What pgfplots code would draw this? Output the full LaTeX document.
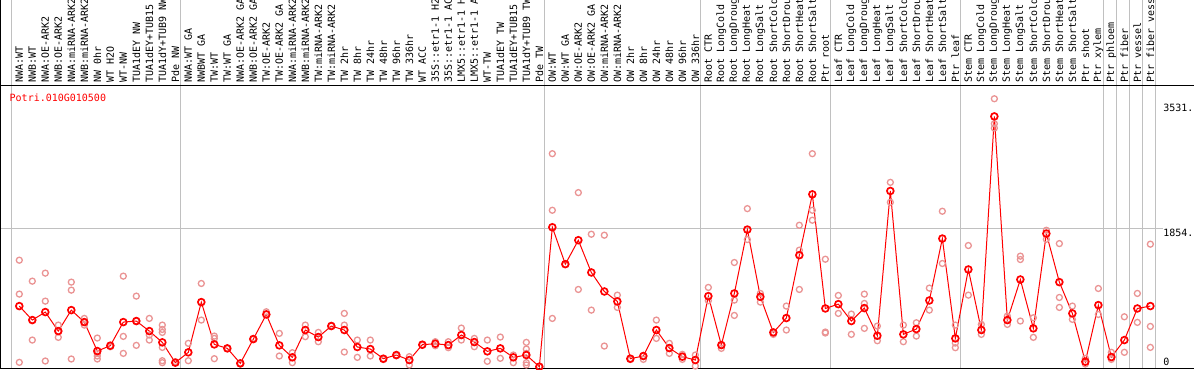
\documentclass[border=0pt]{standalone}
\usepackage{pgfplots}
\pgfplotsset{compat=1.18}
\usepackage{fontspec}
\newfontfamily\monofont{DejaVu Sans Mono}
\definecolor{gridgray}{RGB}{192,192,192}
\definecolor{reppink}{RGB}{234,148,148}
\definecolor{mainred}{RGB}{255,0,0}
\begin{document}
\begin{tikzpicture}
\begin{axis}[
  at={(0bp,1.5bp)}, anchor=south west,
  scale only axis, width=1194bp, height=283bp,
  xmin=-1.485, xmax=90.36,
  ymin=-20, ymax=3761,
  axis line style={draw=none},
  clip=false,
  xtick={0,...,87},
  xticklabels={NWA:WT,NWB:WT,NWA:OE-ARK2,NWB:OE-ARK2,NWA:miRNA-ARK2,NWB:miRNA-ARK2,NW 0hr,WT H2O,WT-NW,TUA1dEY NW,TUA1dEY+TUB15,TUA1dY+TUB9 NW,Pde NW,
  NWA:WT GA,NWBWT GA,TW:WT,TW:WT GA,NWA:OE-ARK2 GA,NWB:OE-ARK2 GA,TW:OE-ARK2,TW:OE-ARK2 GA,NWA:miRNA-ARK2,NWB:miRNA-ARK2,TW:miRNA-ARK2,TW:miRNA-ARK2,TW 2hr,TW 8hr,TW 24hr,TW 48hr,TW 96hr,TW 336hr,WT ACC,35S::etr1-1 H2,35S::etr1-1 AC,LMX5::etr1-1 H,LMX5::etr1-1 A,WT-TW,TUA1dEY TW,TUA1dEY+TUB15,TUA1dY+TUB9 TW,Pde TW,
  OW:WT,OW:WT GA,OW:OE-ARK2,OW:OE-ARK2 GA,OW:miRNA-ARK2,OW:miRNA-ARK2,OW 2hr,OW 8hr,OW 24hr,OW 48hr,OW 96hr,OW 336hr,
  Root CTR,Root LongCold,Root LongDroug,Root LongHeat,Root LongSalt,Root ShortCold,Root ShortDrou,Root ShortHeat,Root ShortSalt,Ptr root,
  Leaf CTR,Leaf LongCold,Leaf LongDroug,Leaf LongHeat,Leaf LongSalt,Leaf ShortCold,Leaf ShortDrou,Leaf ShortHeat,Leaf ShortSalt,Ptr leaf,
  Stem CTR,Stem LongCold,Stem LongDroug,Stem LongHeat,Stem LongSalt,Stem ShortCold,Stem ShortDrou,Stem ShortHeat,Stem ShortSalt,Ptr shoot,Ptr xylem,Ptr phloem,Ptr fiber,Ptr vessel,Ptr fiber vess},
  xticklabel pos=upper,
  xticklabel shift=2.5bp,
  xticklabel style={rotate=90, anchor=west, inner sep=0pt, font=\monofont\fontsize{10bp}{12bp}\selectfont},
  ytick=\empty,
  major tick length=0pt,
  tick style={draw=none},
]
\pgfplotsinvokeforeach{-0.6,12.4,40.4,52.4,62.4,72.4,83.4,84.4,85.4,86.4,87.4}{
  \draw[gridgray, line width=1bp] (axis cs:#1,-20) -- (axis cs:#1,5000);
}
\draw[gridgray, line width=1bp] (axis cs:-1.485,1854) -- (axis cs:87.977,1854);
\draw[black, line width=1.2bp] (rel axis cs:0,1) -- (rel axis cs:1,1);
\draw[black, line width=1.3bp] (rel axis cs:0,0) -- (rel axis cs:1,0);
\draw[black, line width=1.3bp] (axis cs:-1.485,-20) -- (axis cs:-1.485,5000);

\addplot[only marks, mark=o, mark size=3.0bp, mark options={reppink, line width=1.3bp}] table {
x y
0 1427
0 974
0 62
1 1147
1 360
1 627
2 1254
2 880
2 80
3 560
3 396
3 480
4 1134
4 1027
4 107
5 649
5 560
5 600
6 387
6 182
6 147
6 107
7 285
7 270
8 1214
8 409
8 182
9 947
9 289
9 614
10 649
10 427
10 360
11 560
11 502
11 462
11 262
11 84
11 58
12 71
12 58
13 316
13 84
14 1116
14 627
15 413
15 382
15 111
16 249
16 249
17 49
17 40
18 373
18 382
19 738
19 710
20 449
20 147
21 191
21 58
22 560
22 405
23 462
23 338
24 556
24 547
25 716
25 560
25 200
26 360
26 129
27 360
27 147
28 111
28 100
29 160
29 150
30 138
30 27
31 298
31 290
32 338
32 284
33 338
33 258
34 520
34 360
35 382
35 271
36 360
36 76
37 400
37 116
38 160
38 58
39 329
39 240
39 182
39 58
39 27
40 4
40 0
41 2850
41 2094
41 649
42 1374
43 2330
43 1036
44 1774
44 760
45 1761
45 280
46 960
46 796
47 111
47 100
48 102
48 150
49 627
49 382
50 316
50 182
51 169
51 102
52 160
52 13
53 1063
53 885
54 249
54 293
55 1396
55 894
55 689
56 2116
56 1703
57 983
57 867
58 436
58 462
59 814
59 494
60 1894
60 1561
60 1036
61 2850
61 2094
61 1961
62 1440
62 467
62 454
63 956
63 716
64 707
64 436
65 974
65 849
65 516
66 547
66 351
67 2467
67 2201
68 560
68 338
69 591
69 413
70 1054
70 760
71 2081
71 1383
72 560
72 320
72 258
73 1623
73 960
74 569
74 436
75 3584
75 3250
75 3192
76 680
76 569
77 1481
77 1436
77 614
78 658
78 396
79 1827
79 1707
80 1649
80 929
80 796
81 814
81 636
82 116
82 40
83 1049
83 702
84 196
84 102
85 671
85 196
86 983
86 596
87 1641
87 542
87 262
};

\addplot[mainred, line width=1bp, mark=o, mark size=3.4bp, mark options={line width=1.7bp}] table {
x y
0 814
1 627
2 734
3 480
4 760
5 600
6 213
7 285
8 600
9 614
10 480
11 329
12 58
13 196
14 867
15 302
16 249
17 49
18 373
19 702
20 289
21 129
22 494
23 400
24 547
25 494
26 267
27 240
28 111
29 160
30 93
31 298
32 311
33 293
34 427
35 333
36 209
37 249
38 129
39 160
40 4
41 1867
42 1374
43 1694
44 1263
45 1009
46 876
47 111
48 147
49 494
50 253
51 138
52 93
53 947
54 293
55 983
56 1836
57 938
58 462
59 654
60 1494
61 2307
62 782
63 840
64 614
65 787
66 418
67 2352
68 436
69 507
70 889
71 1716
72 382
73 1303
74 494
75 3348
76 627
77 1169
78 516
79 1783
80 1134
81 716
82 71
83 827
84 133
85 360
86 782
87 814
};

\node[anchor=base west, text=mainred, inner sep=0pt, font=\monofont\fontsize{10bp}{12bp}\selectfont] at (axis cs:-0.754,3552) {Potri.010G010500};
\node[anchor=base west, inner sep=0pt, font=\monofont\fontsize{10bp}{12bp}\selectfont] at (axis cs:87.977,3419) {3531.};
\node[anchor=base west, inner sep=0pt, font=\monofont\fontsize{10bp}{12bp}\selectfont] at (axis cs:87.977,1747) {1854.};
\node[anchor=base west, inner sep=0pt, font=\monofont\fontsize{10bp}{12bp}\selectfont] at (axis cs:87.977,23) {0};
\end{axis}
\pgfresetboundingbox
\useasboundingbox (0,0) rectangle (1194bp,370bp);
\end{tikzpicture}
\end{document}
